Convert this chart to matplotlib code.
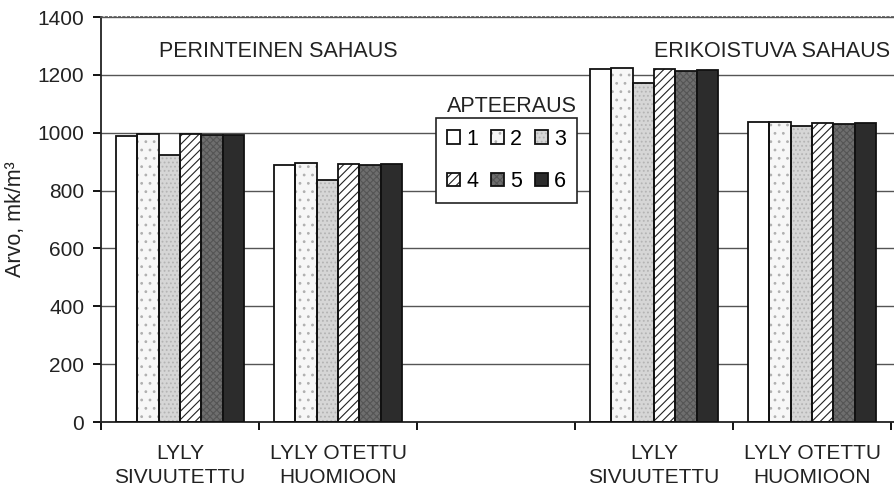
import numpy as np
import matplotlib
matplotlib.use("Agg")
import matplotlib.pyplot as plt
from matplotlib.patches import Patch

plt.rcParams['font.family'] = ['Liberation Sans', 'DejaVu Sans']
plt.rcParams['hatch.linewidth'] = 0.8

# paikat x-akselilla (paikka 2 jaa tyhjaksi)
slots = [0, 1, 3, 4]
cat_labels = ['LYLY\nSIVUUTETTU', 'LYLY OTETTU\nHUOMIOON', '',
              'LYLY\nSIVUUTETTU', 'LYLY OTETTU\nHUOMIOON']
apt_names = ['1', '2', '3', '4', '5', '6']

# arvot mk/m3, apteeraus 1..6
apt1 = [989, 889, 1220, 1038]
apt2 = [996, 896, 1223, 1038]
apt3 = [923, 836, 1172, 1024]
apt4 = [995, 891, 1219, 1032]
apt5 = [992, 888, 1212, 1029]
apt6 = [992, 891, 1217, 1035]
series = [apt1, apt2, apt3, apt4, apt5, apt6]

# taytto, kuvion vari, kuvio
styles = [
    ('white', 'white', None),
    ('#f7f7f7', '#b0b0b0', '..'),
    ('#d6d6d6', '#b4b4b4', '....'),
    ('white', '#222222', '////'),
    ('#6e6e6e', '#555555', 'xxxxx'),
    ('#2c2c2c', '#2c2c2c', None),
]
txt = '#222222'

fig = plt.figure(figsize=(8.94, 4.92), dpi=100)
ax = fig.add_axes([101/894, 70/492, 793/894, 405/492])

w = 0.135
x = np.array(slots, dtype=float)
for i, vals in enumerate(series):
    fc, hc, hatch = styles[i]
    pos = x + (i - 2.5) * w
    ax.bar(pos, vals, width=w, color=fc, edgecolor=hc, hatch=hatch,
           linewidth=0, zorder=2)
    ax.bar(pos, vals, width=w, fill=False, edgecolor='#111111',
           linewidth=1.3, zorder=3)

ax.set_xlim(-0.5, -0.5 + 793/158)
ax.set_ylim(0, 1400)
ax.set_yticks(range(0, 1401, 200))
ax.yaxis.grid(True, color='#555555', linewidth=1.0, zorder=0)
ax.set_axisbelow(True)

ax.set_xticks(np.arange(-0.5, 4.6, 1.0))
ax.set_xticklabels([])
ax.set_xticks(range(5), minor=True)
ax.set_xticklabels(cat_labels, minor=True, linespacing=1.3)
ax.tick_params(axis='x', which='minor', length=0, pad=16, labelsize=15,
               labelcolor=txt)
ax.tick_params(axis='x', which='major', direction='out', length=6, width=1.3)
ax.tick_params(axis='y', direction='out', length=6, width=1.3, pad=6,
               labelsize=15, labelcolor=txt)

for s in ['left', 'bottom']:
    ax.spines[s].set_linewidth(1.3)
    ax.spines[s].set_color(txt)
ax.spines['right'].set_visible(False)
ax.spines['top'].set_linestyle(':')
ax.spines['top'].set_color('#555555')
ax.spines['top'].set_linewidth(1.2)

ax.set_ylabel('Arvo, mk/m³', fontsize=15.5, color=txt, labelpad=8)

ax.text(0.62, 1262, 'PERINTEINEN SAHAUS', ha='center', va='baseline',
        fontsize=15.5, color=txt)
ax.text(3.0, 1262, 'ERIKOISTUVA SAHAUS', ha='left', va='baseline',
        fontsize=15.5, color=txt)
ax.text(2.1, 1072, 'APTEERAUS', ha='center', va='baseline',
        fontsize=15.5, color=txt)

handles = []
for fc, hc, hatch in styles:
    fill = Patch(facecolor=fc, edgecolor=hc, hatch=hatch, linewidth=0)
    edge = Patch(fill=False, edgecolor='#111111', linewidth=1.3)
    handles.append((fill, edge))
order = [0, 3, 1, 4, 2, 5]
leg = ax.legend([handles[k] for k in order], [apt_names[k] for k in order],
                ncol=3, loc='upper left', mode='expand',
                bbox_to_anchor=(335/793, 0.548, 141/793, 0.203),
                borderaxespad=0, fontsize=15.5, handlelength=0.6,
                handleheight=0.6, handletextpad=0.3, columnspacing=0.5,
                labelspacing=1.0, borderpad=0.5, fancybox=False,
                framealpha=1, edgecolor=txt)
leg.get_frame().set_linewidth(1.2)
leg.set_zorder(5)

fig.savefig('out.png', dpi=100)
